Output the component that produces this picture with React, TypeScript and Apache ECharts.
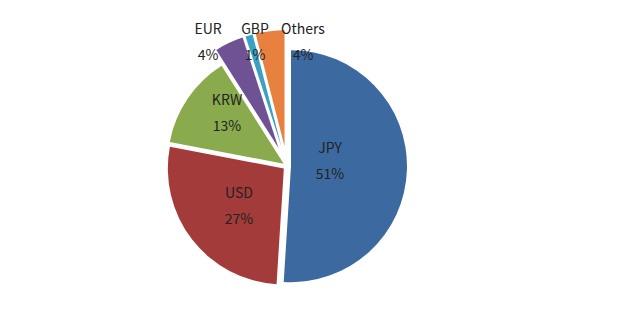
import React, { useEffect, useRef } from "react";
import * as echarts from "echarts";

const categories = ["JPY", "USD", "KRW", "EUR", "GBP", "Others"];
const shares = [51, 27, 13, 4, 1, 4];
const colors = ["#3c6aa0", "#a33b3a", "#8aaa4e", "#6f5293", "#3aa0c4", "#e8803f"];
// which slices are pulled out far (small ones) vs slightly (large ones)
const farExploded = ["EUR", "GBP", "Others"];

// label centers (layout only)
const labelPos: Record<string, [number, number]> = {
  JPY: [330, 160],
  USD: [239, 205],
  KRW: [227, 112],
  EUR: [208, 41],
  GBP: [255, 41],
  Others: [303, 41],
};

const FONT = "'Noto Sans CJK KR', 'Noto Sans', sans-serif";

function pieSeries(far: boolean) {
  return {
    type: "pie",
    center: [287, 166],
    radius: 116,
    startAngle: 90,
    clockwise: true,
    selectedMode: "multiple",
    selectedOffset: far ? 20 : 4,
    silent: true,
    label: { show: false },
    labelLine: { show: false },
    emphasis: { disabled: true },
    data: categories.map((c, i) => {
      const visible = farExploded.includes(c) === far;
      return {
        name: c,
        value: shares[i],
        selected: visible,
        itemStyle: visible
          ? { color: colors[i] }
          : { color: "rgba(0,0,0,0)", opacity: 0 },
      };
    }),
  };
}

export default function App() {
  const ref = useRef<HTMLDivElement>(null);
  useEffect(() => {
    if (!ref.current) return;
    const chart = echarts.init(ref.current, null, { renderer: "svg" });
    chart.setOption({
      animation: false,
      backgroundColor: "#ffffff",
      series: [pieSeries(false), pieSeries(true)],
      graphic: categories.map((c, i) => ({
        type: "text",
        x: labelPos[c][0],
        y: labelPos[c][1],
        z: 100,
        silent: true,
        style: {
          text: `${c}\n${shares[i]}%`,
          fill: "#222222",
          font: `14px ${FONT}`,
          lineHeight: 26,
          textAlign: "center",
          textVerticalAlign: "middle",
        },
      })),
    });
    return () => chart.dispose();
  }, []);
  return (
    <div
      ref={ref}
      style={{ position: "fixed", left: 0, top: 0, width: 640, height: 326 }}
    />
  );
}
